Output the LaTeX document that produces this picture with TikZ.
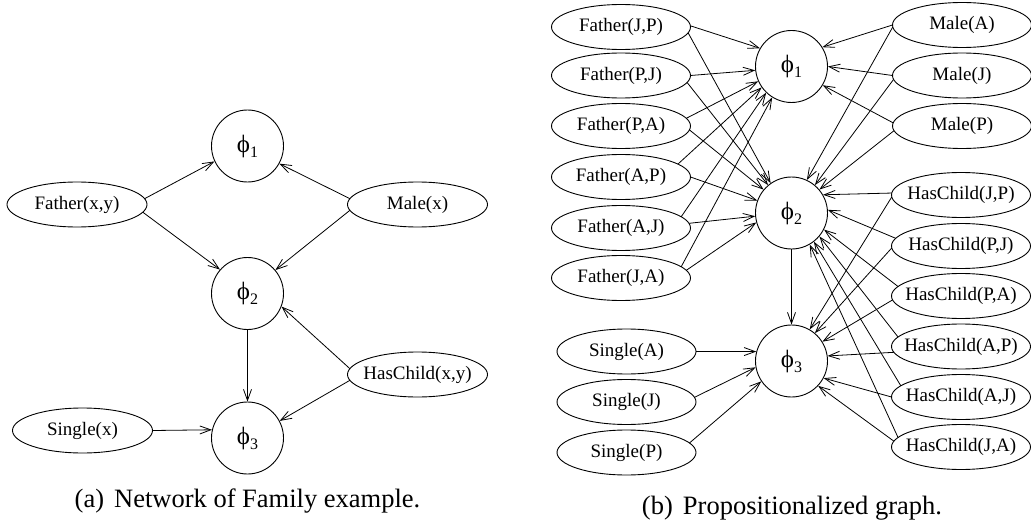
\documentclass[tikz,border=0pt]{standalone}
\usepackage{fontspec}
\setmainfont{Liberation Serif}
\newfontfamily\lserif{Liberation Serif}
\usetikzlibrary{shapes.geometric,arrows.meta}
\newcommand\zt[1]{\makebox[0pt]{#1}}
\newcommand\phil[1]{{\lserif\fontsize{25}{25}\selectfont ϕ}\raisebox{-5pt}{\lserif\fontsize{16}{16}\selectfont #1}}
\begin{document}
\begin{tikzpicture}[x=1pt,y=-1pt,
  prop/.style={draw, ellipse, minimum width=139pt, minimum height=45pt, inner sep=0pt, line width=0.9pt, font=\lserif\fontsize{19}{19}\selectfont},
  fac/.style={draw, circle, minimum size=72pt, inner sep=0pt, line width=0.9pt},
  arr/.style={-{Straight Barb[length=11pt,width=8pt]}, line width=0.8pt},
  captxt/.style={font=\lserif\fontsize{26.5}{26.5}\selectfont, anchor=base, inner sep=0pt}]
\useasboundingbox (0,0) rectangle (1031,524);
% ---------------- (a) ----------------
\node[fac] (p1a) at (247.5,146) {\phil{1}};
\node[fac] (p2a) at (247.5,293.5) {\phil{2}};
\node[fac] (p3a) at (247.5,438) {\phil{3}};
\node[prop, minimum width=140pt] (fa) at (77,204.5) {\zt{Father(x,y)}};
\node[prop, minimum width=140pt] (ma) at (417.5,204.5) {\zt{Male(x)}};
\node[prop, minimum width=140pt] (ha) at (417.5,374.5) {\zt{HasChild(x,y)}};
\node[prop, minimum width=140pt] (sa) at (82.5,430.5) {\zt{Single(x)}};
\draw[arr] ([shift={(15:70pt and 22.5pt)}]fa.center) -- (p1a.205);
\draw[arr] ([shift={(-20:70pt and 22.5pt)}]fa.center) -- (p2a.139);
\draw[arr] ([shift={(165:70pt and 22.5pt)}]ma.center) -- (p1a.331);
\draw[arr] ([shift={(195:70pt and 22.5pt)}]ma.center) -- (p2a.40);
\draw[arr] (p2a.south) -- (p3a.north);
\draw[arr] ([shift={(165:70pt and 22.5pt)}]ha.center) -- (p2a.339);
\draw[arr] ([shift={(195:70pt and 22.5pt)}]ha.center) -- (p3a.28);
\draw[arr] ([shift={(0:70pt and 22.5pt)}]sa.center) -- (p3a.167);
\node[captxt] (capa) at (247.5,507.5) {(a)\hspace{0.13em} Network of Family example.};
% ---------------- (b) ----------------
\node[fac] (p1b) at (791.5,66.5) {\phil{1}};
\node[fac] (p2b) at (791.5,213) {\phil{2}};
\node[fac] (p3b) at (791.5,361) {\phil{3}};
\node[prop] (fJP) at (621,27) {\zt{Father(J,P)}};
\node[prop] (fPJ) at (621,75.5) {\zt{Father(P,J)}};
\node[prop] (fPA) at (621,126) {\zt{Father(P,A)}};
\node[prop] (fAP) at (621,177) {\zt{Father(A,P)}};
\node[prop] (fAJ) at (621,228) {\zt{Father(A,J)}};
\node[prop] (fJA) at (621,278) {\zt{Father(J,A)}};
\node[prop] (mA) at (962,25) {\zt{Male(A)}};
\node[prop] (mJ) at (962,75.5) {\zt{Male(J)}};
\node[prop] (mP) at (962,126) {\zt{Male(P)}};
\node[prop] (hJP) at (961,195) {\zt{HasChild(J,P)}};
\node[prop] (hPJ) at (961,246) {\zt{HasChild(P,J)}};
\node[prop] (hPA) at (961,296) {\zt{HasChild(P,A)}};
\node[prop] (hAP) at (961,346.5) {\zt{HasChild(A,P)}};
\node[prop] (hAJ) at (961,397) {\zt{HasChild(A,J)}};
\node[prop] (hJA) at (961,447) {\zt{HasChild(J,A)}};
\node[prop] (sA) at (626.5,351.5) {\zt{Single(A)}};
\node[prop] (sJ) at (626.5,402) {\zt{Single(J)}};
\node[prop] (sP) at (626.5,452.5) {\zt{Single(P)}};
% Fathers -> phi1
\draw[arr] ([shift={(3:69.5pt and 22.5pt)}]fJP.center) -- (p1b.150);
\draw[arr] ([shift={(0:69.5pt and 22.5pt)}]fPJ.center) -- (p1b.186);
\draw[arr] ([shift={(20:69.5pt and 22.5pt)}]fPA.center) -- (p1b.204);
\draw[arr] ([shift={(35:69.5pt and 22.5pt)}]fAP.center) -- (p1b.215);
\draw[arr] ([shift={(30:69.5pt and 22.5pt)}]fAJ.center) -- (p1b.226);
\draw[arr] ([shift={(30:69.5pt and 22.5pt)}]fJA.center) -- (p1b.238);
% Fathers -> phi2
\draw[arr] ([shift={(-15:69.5pt and 22.5pt)}]fJP.center) -- (p2b.125);
\draw[arr] ([shift={(-18:69.5pt and 22.5pt)}]fPJ.center) -- (p2b.130);
\draw[arr] ([shift={(-10:69.5pt and 22.5pt)}]fPA.center) -- (p2b.140);
\draw[arr] ([shift={(0:69.5pt and 22.5pt)}]fAP.center) -- (p2b.160);
\draw[arr] ([shift={(12:69.5pt and 22.5pt)}]fAJ.center) -- (p2b.185);
\draw[arr] ([shift={(20:69.5pt and 22.5pt)}]fJA.center) -- (p2b.195);
% Males -> phi1, phi2
\draw[arr] ([shift={(180:69.5pt and 22.5pt)}]mA.center) -- (p1b.32);
\draw[arr] ([shift={(180:69.5pt and 22.5pt)}]mJ.center) -- (p1b.0);
\draw[arr] ([shift={(172:69.5pt and 22.5pt)}]mP.center) -- (p1b.329);
\draw[arr] ([shift={(185:69.5pt and 22.5pt)}]mA.center) -- (p2b.65);
\draw[arr] ([shift={(190:69.5pt and 22.5pt)}]mJ.center) -- (p2b.50);
\draw[arr] ([shift={(192:69.5pt and 22.5pt)}]mP.center) -- (p2b.40);
% HasChild -> phi2
\draw[arr] ([shift={(175:69.5pt and 22.5pt)}]hJP.center) -- (p2b.30);
\draw[arr] ([shift={(160:69.5pt and 22.5pt)}]hPJ.center) -- (p2b.5);
\draw[arr] ([shift={(155:69.5pt and 22.5pt)}]hPA.center) -- (p2b.333);
\draw[arr] ([shift={(155:69.5pt and 22.5pt)}]hAP.center) -- (p2b.320);
\draw[arr] ([shift={(150:69.5pt and 22.5pt)}]hAJ.center) -- (p2b.308);
\draw[arr] ([shift={(155:69.5pt and 22.5pt)}]hJA.center) -- (p2b.300);
% HasChild -> phi3
\draw[arr] ([shift={(185:69.5pt and 22.5pt)}]hJP.center) -- (p3b.60);
\draw[arr] ([shift={(185:69.5pt and 22.5pt)}]hPJ.center) -- (p3b.50);
\draw[arr] ([shift={(190:69.5pt and 22.5pt)}]hPA.center) -- (p3b.32);
\draw[arr] ([shift={(195:69.5pt and 22.5pt)}]hAP.center) -- (p3b.8);
\draw[arr] ([shift={(180:69.5pt and 22.5pt)}]hAJ.center) -- (p3b.332);
\draw[arr] ([shift={(165:69.5pt and 22.5pt)}]hJA.center) -- (p3b.317);
% Singles -> phi3
\draw[arr] ([shift={(0:69.5pt and 22.5pt)}]sA.center) -- (p3b.165);
\draw[arr] ([shift={(12:69.5pt and 22.5pt)}]sJ.center) -- (p3b.190);
\draw[arr] ([shift={(25:69.5pt and 22.5pt)}]sP.center) -- (p3b.214);
% phi2 -> phi3
\draw[arr] (p2b.south) -- (p3b.north);
\node[captxt] (capb) at (792,514.5) {(b)\hspace{0.13em} Propositionalized graph.};
\end{tikzpicture}
\end{document}
